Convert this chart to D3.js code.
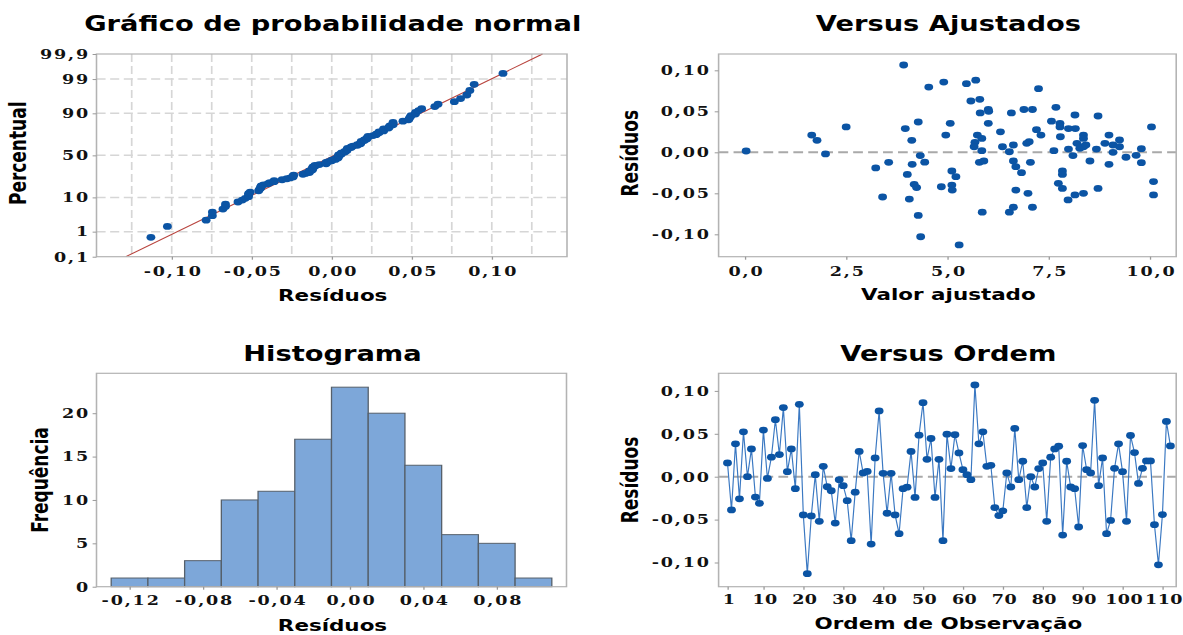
<!DOCTYPE html>
<html>
<head>
<meta charset="utf-8">
<script src="https://cdn.jsdelivr.net/npm/d3@7"></script>
<style>
  html, body { margin: 0; padding: 0; background: #fff; }
  svg { display: block; }
  .titulo { font-family: "DejaVu Sans", sans-serif; font-weight: bold; font-size: 21px; fill: #000; }
  .eixo { font-family: "DejaVu Sans", sans-serif; font-weight: bold; font-size: 16.5px; fill: #000; }
  .eixoV { font-family: "DejaVu Sans", sans-serif; font-weight: bold; font-size: 17px; fill: #000; }
  .tick text { font-family: "DejaVu Serif", serif; font-weight: bold; font-size: 13.5px; letter-spacing: 1.4px; fill: #111; }
  .ordem .tick text { letter-spacing: 0.3px; }
</style>
</head>
<body>
<div id="graficos"></div>
<script>
//------------------------------DATA------------------------------//
// residuos na ordem de observacao (1..112)
const residuos = [
  0.016, -0.0387, 0.0383, -0.0258, 0.0523, 0.000, 0.0324, -0.0238, -0.031, 0.0543,
  -0.002, 0.0227, 0.0664, 0.0258, 0.0805, 0.0059, 0.0324, -0.014, 0.0844, -0.0445,
  -0.113, -0.0457, 0.0023, -0.052, 0.0121, -0.0117, -0.0164, -0.054, -0.0035, -0.0105,
  -0.028, -0.0746, -0.018, 0.0295, 0.0043, 0.0062, -0.0785, 0.0219, 0.0766, 0.0039,
  -0.0426, 0.0039, -0.0445, -0.0664, -0.014, -0.0122, 0.0295, -0.0242, 0.0484, 0.0863,
  0.0203, 0.0445, -0.0242, 0.0203, -0.0746, 0.0495, 0.0095, 0.049, 0.0277, 0.0082,
  0.0023, -0.0035, 0.107, 0.0383, 0.0523, 0.0121, 0.0133, -0.036, -0.0453, -0.0398,
  0.0043, -0.012, 0.0562, -0.0035, 0.018, -0.036, 0.000, -0.012, 0.0095, 0.016,
  -0.052, 0.0227, 0.0324, 0.0355, -0.068, 0.018, -0.012, -0.014, -0.0586, 0.0363,
  0.0082, 0.0043, 0.089, -0.0105, 0.0219, -0.0664, -0.051, 0.0098, 0.0383, 0.0059,
  -0.052, 0.048, 0.0281, -0.0078, 0.0098, 0.0184, 0.0184, -0.0559, -0.1027, -0.0441,
  0.0644, 0.0359
];

// pares (valor ajustado, residuo) do grafico Versus Ajustados
const ajustados = [
  0.03, 1.65, 1.78, 1.99, 2.50, 3.23, 3.40, 3.55, 3.92, 3.96,
  4.01, 4.06, 4.12, 4.13, 4.18, 4.24, 4.28, 4.28, 4.33, 4.34,
  4.44, 4.54, 4.85, 4.91, 4.96, 5.07, 5.11, 5.21, 5.11, 5.12,
  5.29, 5.47, 5.70, 5.58, 5.80, 5.81, 6.01, 6.02, 6.01, 5.74,
  5.85, 5.68, 5.66, 5.85, 5.79, 5.90, 5.86, 6.31, 6.36, 6.53,
  6.63, 6.58, 6.63, 6.69, 6.83, 6.69, 6.53, 6.63, 6.89, 7.10,
  6.96, 7.02, 7.05, 6.99, 7.10, 7.20, 7.25, 7.31, 7.57, 7.63,
  7.68, 7.78, 7.78, 7.79, 7.84, 7.84, 7.74, 7.84, 7.99, 7.99,
  8.10, 8.15, 8.16, 8.20, 7.98, 8.15, 8.36, 8.36, 8.36, 8.36,
  8.27, 8.42, 8.52, 8.72, 8.68, 8.72, 8.89, 8.99, 8.99, 9.09,
  9.09, 9.25, 9.25, 9.41, 9.66, 9.79, 9.79, 10.04, 10.09, 10.09
];
const residuosAjust = [
  0.0016, 0.021, 0.0146, -0.002, 0.031, -0.019, -0.0545, -0.0122, 0.1065, 0.029,
  -0.027, -0.057, 0.0146, -0.0146, -0.039, -0.043, 0.037, -0.077, -0.004, -0.103,
  -0.012, 0.0796, -0.042, 0.0857, 0.021, 0.0354, -0.0228, -0.0297, -0.040, -0.046,
  -0.113, 0.0837, 0.088, 0.0626, 0.0646, 0.048, 0.0522, 0.050, 0.0354, 0.021,
  0.017, 0.0122, 0.0068, 0.002, -0.0122, -0.0106, -0.073, 0.025, 0.0068, 0.0007,
  0.0089, 0.048, -0.0106, -0.0175, -0.0248, -0.046, -0.073, -0.067, 0.0522, 0.0522,
  0.011, 0.013, -0.0122, -0.050, -0.067, 0.0276, 0.0776, 0.021, 0.038, 0.002,
  0.0549, 0.0354, 0.031, 0.019, -0.0228, -0.027, -0.0378, -0.044, 0.029, 0.004,
  -0.004, 0.0455, 0.029, 0.011, -0.058, -0.052, -0.050, 0.021, 0.017, 0.0068,
  0.0049, 0.0089, -0.0106, 0.0443, 0.004, -0.044, 0.011, 0.021, -0.0146, 0.0089,
  0.000, 0.015, 0.0068, -0.006, -0.0037, 0.0044, -0.0126, 0.031, -0.0357, -0.052
];

const ticksPerc = [0.1, 1, 10, 50, 90, 99, 99.9];
const gradePerc = [1, 10, 50, 90, 99];
const ticksResid = [-0.10, -0.05, 0, 0.05, 0.10];
const gradeProbX = [-0.125, -0.1, -0.075, -0.05, -0.025, 0, 0.025, 0.05, 0.075, 0.1, 0.125];
const ticksAjust = [0, 2.5, 5, 7.5, 10];
const ticksHist = [-0.12, -0.08, -0.04, 0, 0.04, 0.08];
const limitesHist = [-0.13, -0.11, -0.09, -0.07, -0.05, -0.03, -0.01, 0.01, 0.03, 0.05, 0.07, 0.09, 0.11];
const ticksFreq = [0, 5, 10, 15, 20];
const ticksOrdem = [1, 10, 20, 30, 40, 50, 60, 70, 80, 90, 100, 110];

//-----------------------------SVG------------------------------//
const width = 1183;
const height = 635;
const K = 1.3; // a imagem original e esticada na horizontal
const ix = v => v / K;

const svg = d3.select("#graficos").append("svg")
  .attr("width", width)
  .attr("height", height);

svg.append("rect").attr("width", width).attr("height", height).attr("fill", "#fff");

const root = svg.append("g").attr("transform", "scale(" + K + ",1)");

const azul = "#0b54a4";
const cinza = "#a9a9a9";
const raio = 3.4;

const loc = d3.formatLocale({decimal: ",", thousands: ".", grouping: [3], currency: ["", ""], minus: "-"});
const f2 = loc.format(".2f");
const f1 = loc.format(".1f");
const fg = loc.format("~g");

// normal inversa (Acklam) para a escala de probabilidade
function qnorm(p) {
  const a = [-3.969683028665376e+01, 2.209460984245205e+02, -2.759285104469687e+02, 1.383577518672690e+02, -3.066479806614716e+01, 2.506628277459239e+00];
  const b = [-5.447609879822406e+01, 1.615858368580409e+02, -1.556989798598866e+02, 6.680131188771972e+01, -1.328068155288572e+01];
  const c = [-7.784894002430293e-03, -3.223964580411365e-01, -2.400758277161838e+00, -2.549732539343734e+00, 4.374664141464968e+00, 2.938163982698783e+00];
  const d = [7.784695709041462e-03, 3.224671290700398e-01, 2.445134137142996e+00, 3.754408661907416e+00];
  const pl = 0.02425;
  if (p < pl) {
    const q = Math.sqrt(-2 * Math.log(p));
    return (((((c[0]*q+c[1])*q+c[2])*q+c[3])*q+c[4])*q+c[5]) / ((((d[0]*q+d[1])*q+d[2])*q+d[3])*q+1);
  }
  if (p > 1 - pl) {
    const q = Math.sqrt(-2 * Math.log(1 - p));
    return -(((((c[0]*q+c[1])*q+c[2])*q+c[3])*q+c[4])*q+c[5]) / ((((d[0]*q+d[1])*q+d[2])*q+d[3])*q+1);
  }
  const q = p - 0.5, r = q * q;
  return (((((a[0]*r+a[1])*r+a[2])*r+a[3])*r+a[4])*r+a[5])*q / (((((b[0]*r+b[1])*r+b[2])*r+b[3])*r+b[4])*r+1);
}

//---------------------------HELPERS----------------------------//
function fundo(p) {
  root.append("rect")
    .attr("x", ix(p.x0)).attr("y", p.y0)
    .attr("width", ix(p.x1 - p.x0)).attr("height", p.y1 - p.y0)
    .attr("fill", "#fff");
}
function moldura(p) {
  root.append("rect")
    .attr("x", ix(p.x0)).attr("y", p.y0)
    .attr("width", ix(p.x1 - p.x0)).attr("height", p.y1 - p.y0)
    .attr("fill", "none")
    .attr("stroke", "#b3b3b3")
    .attr("stroke-width", 1.2);
}
function eixoX(p, escala, valores, formato, pad, classe) {
  const g = root.append("g")
    .attr("class", classe || null)
    .attr("transform", "translate(0," + p.y1 + ")")
    .call(d3.axisBottom(escala).tickValues(valores).tickFormat(formato).tickSize(3).tickPadding(pad));
  g.select(".domain").remove();
  g.selectAll(".tick line").attr("stroke", "#999");
  g.selectAll(".tick text").attr("dx", "0.7");
}
function eixoY(p, escala, valores, formato, pad) {
  const g = root.append("g")
    .attr("transform", "translate(" + ix(p.x0) + ",0)")
    .call(d3.axisLeft(escala).tickValues(valores).tickFormat(formato).tickSize(3).tickPadding(pad));
  g.select(".domain").remove();
  g.selectAll(".tick line").attr("stroke", "#999");
}
function titulos(p, titulo, tituloX, ty, tyBase, rx, ry, tituloY) {
  const cx = ix((p.x0 + p.x1) / 2 + 1);
  root.append("text").attr("class", "titulo")
    .attr("x", cx).attr("y", ty)
    .attr("text-anchor", "middle").text(titulo);
  root.append("text").attr("class", "eixo")
    .attr("x", cx).attr("y", tyBase)
    .attr("text-anchor", "middle").text(tituloX);
  root.append("text").attr("class", "eixoV")
    .attr("transform", "translate(" + ix(rx) + "," + ry + ") rotate(-90)")
    .attr("text-anchor", "middle").text(tituloY);
}

//------------------1. GRAFICO DE PROBABILIDADE------------------//
const p1 = {x0: 96.5, x1: 567, y0: 54, y1: 256.7};
const x1s = d3.scaleLinear().domain([-0.147, 0.147]).range([ix(p1.x0), ix(p1.x1)]);
const y1s = d3.scaleLinear().domain([qnorm(0.001), qnorm(0.999)]).range([p1.y1, p1.y0]);
fundo(p1);

// grade
root.append("g").selectAll("line")
  .data(gradeProbX).enter().append("line")
  .attr("x1", d => x1s(d)).attr("x2", d => x1s(d))
  .attr("y1", p1.y0).attr("y2", p1.y1)
  .attr("stroke", "#d6d6d6").attr("stroke-width", 1.3)
  .attr("stroke-dasharray", "8,4");
root.append("g").selectAll("line")
  .data(gradePerc).enter().append("line")
  .attr("x1", ix(p1.x0)).attr("x2", ix(p1.x1))
  .attr("y1", d => y1s(qnorm(d / 100))).attr("y2", d => y1s(qnorm(d / 100)))
  .attr("stroke", "#d6d6d6").attr("stroke-width", 1.5)
  .attr("stroke-dasharray", "7,3.5");

// linha ajustada (media e desvio padrao dos residuos)
const media = d3.mean(residuos);
const dp = d3.deviation(residuos);
const zExt = y1s.domain();
root.append("line")
  .attr("x1", x1s(media + dp * zExt[0])).attr("y1", y1s(zExt[0]))
  .attr("x2", x1s(media + dp * zExt[1])).attr("y2", y1s(zExt[1]))
  .attr("stroke", "#b8433d").attr("stroke-width", 1);

const ordenados = residuos.slice().sort(d3.ascending);
const n = ordenados.length;
root.append("g").selectAll("circle")
  .data(ordenados).enter().append("circle")
  .attr("cx", d => x1s(d))
  .attr("cy", (d, i) => y1s(qnorm((i + 1 - 0.3) / (n + 0.4))))
  .attr("r", raio)
  .attr("fill", azul);

moldura(p1);
eixoX(p1, x1s, ticksResid, f2, 7);
eixoY(p1, y1s, ticksPerc.map(t => qnorm(t / 100)), (d, i) => fg(ticksPerc[i]), 2);
titulos(p1, "Gráfico de probabilidade normal", "Resíduos", 31, 301.5, 26.5, 153.3, "Percentual");

//---------------------2. VERSUS AJUSTADOS-----------------------//
const p2 = {x0: 718.6, x1: 1176.2, y0: 54, y1: 256.7};
const x2s = d3.scaleLinear().domain([-0.65, 10.65]).range([ix(p2.x0), ix(p2.x1)]);
const y2s = d3.scaleLinear().domain([-0.1273, 0.1199]).range([p2.y1, p2.y0]);
fundo(p2);
root.append("line")
  .attr("x1", ix(p2.x0)).attr("x2", ix(p2.x1))
  .attr("y1", y2s(0)).attr("y2", y2s(0))
  .attr("stroke", cinza).attr("stroke-width", 2)
  .attr("stroke-dasharray", "7.5,4");
root.append("g").selectAll("circle")
  .data(ajustados).enter().append("circle")
  .attr("cx", d => x2s(d))
  .attr("cy", (d, i) => y2s(residuosAjust[i]))
  .attr("r", raio)
  .attr("fill", azul);
moldura(p2);
eixoX(p2, x2s, ticksAjust, f1, 7);
eixoY(p2, y2s, ticksResid, f2, 3);
titulos(p2, "Versus Ajustados", "Valor ajustado", 31, 300, 637.5, 153.3, "Resíduos");

//-------------------------3. HISTOGRAMA--------------------------//
const p3 = {x0: 96.5, x1: 566.5, y0: 373.3, y1: 586.7};
const x3s = d3.scaleLinear().domain([-0.138, 0.118]).range([ix(p3.x0), ix(p3.x1)]);
const y3s = d3.scaleLinear().domain([0, 24.6]).range([p3.y1, p3.y0]);
const bins = d3.bin()
  .domain([limitesHist[0], limitesHist[limitesHist.length - 1]])
  .thresholds(limitesHist.slice(1, -1))(residuos);
fundo(p3);
root.append("g").selectAll("rect")
  .data(bins).enter().append("rect")
  .attr("x", d => x3s(d.x0))
  .attr("width", d => x3s(d.x1) - x3s(d.x0))
  .attr("y", d => y3s(d.length))
  .attr("height", d => y3s(0) - y3s(d.length))
  .attr("fill", "#7da7d9")
  .attr("stroke", "#56606b")
  .attr("stroke-width", 1);
moldura(p3);
eixoX(p3, x3s, ticksHist, f2, 6);
eixoY(p3, y3s, ticksFreq, d3.format("d"), 2);
titulos(p3, "Histograma", "Resíduos", 360.7, 631, 48, 480, "Frequência");

//-------------------------4. VERSUS ORDEM------------------------//
const p4 = {x0: 718.6, x1: 1176.2, y0: 373.3, y1: 586.7};
const x4s = d3.scaleLinear().domain([-1.23, 113.45]).range([ix(p4.x0), ix(p4.x1)]);
const y4s = d3.scaleLinear().domain([-0.1282, 0.1205]).range([p4.y1, p4.y0]);
fundo(p4);
root.append("line")
  .attr("x1", ix(p4.x0)).attr("x2", ix(p4.x1))
  .attr("y1", y4s(0)).attr("y2", y4s(0))
  .attr("stroke", cinza).attr("stroke-width", 2)
  .attr("stroke-dasharray", "7.5,4");
const linha = d3.line()
  .x((d, i) => x4s(i + 1))
  .y(d => y4s(d));
root.append("path")
  .attr("d", linha(residuos))
  .attr("fill", "none")
  .attr("stroke", "#3a78c2")
  .attr("stroke-width", 0.9);
root.append("g").selectAll("circle")
  .data(residuos).enter().append("circle")
  .attr("cx", (d, i) => x4s(i + 1))
  .attr("cy", d => y4s(d))
  .attr("r", raio)
  .attr("fill", azul);
moldura(p4);
eixoX(p4, x4s, ticksOrdem, d3.format("d"), 5.2, "ordem");
eixoY(p4, y4s, ticksResid, f2, 3);
titulos(p4, "Versus Ordem", "Ordem de Observação", 360.7, 629, 637.5, 480, "Resíduos");
</script>
</body>
</html>
